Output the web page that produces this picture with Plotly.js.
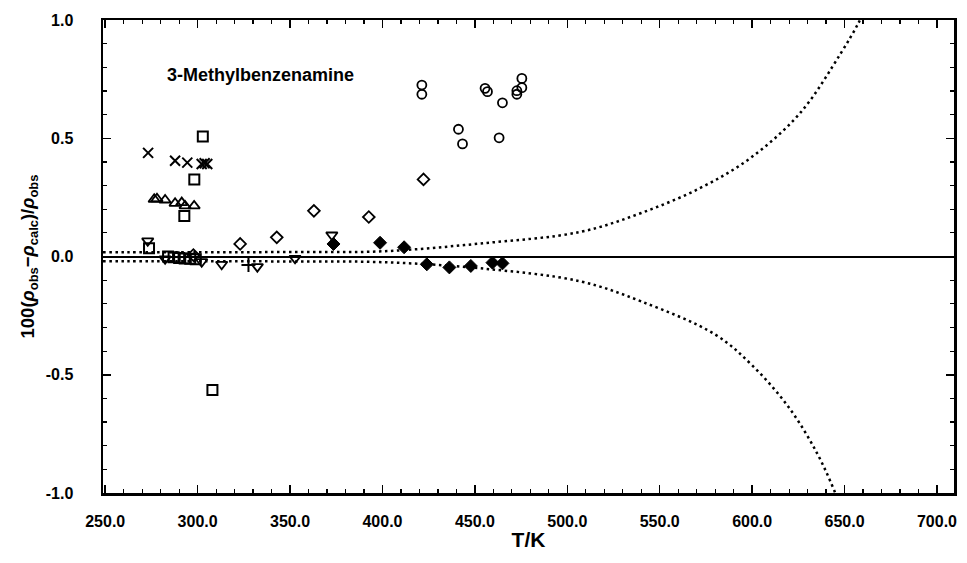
<!DOCTYPE html>
<html><head><meta charset="utf-8">
<script src="https://cdn.plot.ly/plotly-3.0.1.min.js"></script>
<style>html,body{margin:0;padding:0;background:#fff}#chart{width:967px;height:563px}</style>
</head><body><div id="chart"></div>
<script>
// ---- data ----
const crossT = [273.2, 287.8, 294.4, 302.2, 303.8, 305.2];
const crossY = [0.438, 0.405, 0.397, 0.391, 0.394, 0.391];
const squareT = [302.8, 298.2, 292.8, 308.0, 273.7, 284.0, 287.0, 290.0, 293.0, 296.0, 299.0];
const squareY = [0.507, 0.326, 0.171, -0.564, 0.035, 0.000, -0.003, -0.006, -0.008, -0.010, -0.012];
const triUpT = [276.5, 278.0, 282.4, 287.8, 291.4, 293.2, 298.1];
const triUpY = [0.242, 0.244, 0.239, 0.225, 0.228, 0.214, 0.214];
const triDnT = [273.0, 282.4, 302.2, 313.0, 332.3, 352.7, 372.6];
const triDnY = [0.066, -0.010, -0.022, -0.033, -0.043, -0.008, 0.091];
const plusT = [327.5];
const plusY = [-0.036];
const diaT = [297.7, 323.0, 342.8, 362.9, 392.6, 422.2];
const diaY = [0.006, 0.053, 0.081, 0.193, 0.167, 0.326];
const fdiaT = [373.5, 398.7, 411.7, 424.0, 436.2, 447.8, 459.5, 464.9];
const fdiaY = [0.053, 0.058, 0.039, -0.033, -0.046, -0.040, -0.026, -0.029];
const circT = [421.3, 421.3, 441.1, 443.3, 455.5, 456.8, 464.9, 463.1, 472.7, 472.7, 475.4, 475.4];
const circY = [0.725, 0.686, 0.538, 0.476, 0.711, 0.697, 0.650, 0.502, 0.686, 0.701, 0.753, 0.714];
// dotted uncertainty envelope
const upperT = [248.8, 300, 350, 400, 453, 507, 540, 572, 599, 626, 648, 657.5, 662];
const upperY = [0.018, 0.018, 0.019, 0.022, 0.055, 0.104, 0.184, 0.29, 0.416, 0.607, 0.86, 0.987, 1.06];
const lowerT = [248.8, 300, 350, 400, 453, 507, 540, 580, 600, 620, 635, 645, 650];
const lowerY = [-0.020, -0.020, -0.021, -0.024, -0.050, -0.105, -0.19, -0.33, -0.46, -0.64, -0.83, -1.0, -1.1];
// axis labels
const xTicks = [250, 300, 350, 400, 450, 500, 550, 600, 650, 700];
const xTickText = ['250.0','300.0','350.0','400.0','450.0','500.0','550.0','600.0','650.0','700.0'];
const yTicks = [-1, -0.5, 0, 0.5, 1];
const yTickText = ['-1.0','-0.5','0.0','0.5','1.0'];
const chartTitle = '3-Methylbenzenamine';
const xTitle = 'T/K';
const yTitle = '100(<i>ρ</i><sub>obs</sub>−<i>ρ</i><sub>calc</sub>)/<i>ρ</i><sub>obs</sub>';

const FONT = 'Arial, "Liberation Sans", sans-serif';
function mk(x, y, symbol, size, lw) {
  return {x: x, y: y, type: 'scatter', mode: 'markers', cliponaxis: true,
    marker: {symbol: symbol, size: size, color: '#000', line: {color: '#000', width: lw}},
    hoverinfo: 'skip', showlegend: false};
}
const dotLine = {color: '#000', width: 2.5, dash: '2.5px,3.5px', shape: 'spline'};
const traces = [
  {x: upperT, y: upperY, type: 'scatter', mode: 'lines', line: dotLine, hoverinfo: 'skip', showlegend: false},
  {x: lowerT, y: lowerY, type: 'scatter', mode: 'lines', line: dotLine, hoverinfo: 'skip', showlegend: false},
  mk(crossT, crossY, 'x-thin-open', 10, 2),
  mk(squareT, squareY, 'square-open', 10, 2),
  mk(triUpT, triUpY, 'triangle-up-open', 10, 1.8),
  mk(triDnT, triDnY, 'triangle-down-open', 10, 1.8),
  mk(plusT, plusY, 'cross-thin-open', 10, 2),
  mk(diaT, diaY, 'diamond-open', 9, 1.8),
  mk(fdiaT, fdiaY, 'diamond', 10, 1),
  mk(circT, circY, 'circle-open', 9, 1.8)
];
const axisCommon = {
  showline: true, linecolor: '#000', linewidth: 2.5, mirror: 'ticks',
  ticks: 'inside', ticklen: 8, tickwidth: 1.5, tickcolor: '#000',
  showgrid: false,
  tickfont: {family: FONT, size: 16, color: '#000', weight: 'bold'}
};
const layout = {
  width: 967, height: 563,
  margin: {l: 103, r: 13, t: 20, b: 70},
  paper_bgcolor: '#fff', plot_bgcolor: '#fff',
  showlegend: false,
  xaxis: Object.assign({}, axisCommon, {
    range: [248.8, 709.2], tickvals: xTicks, ticktext: xTickText, zeroline: false,
    minor: {dtick: 10, tick0: 250, ticks: 'inside', ticklen: 4, tickwidth: 1.2, tickcolor: '#000'},
    ticklabelstandoff: 12,
    title: {text: xTitle, font: {family: FONT, size: 21, color: '#000', weight: 'bold'}, standoff: 4}
  }),
  yaxis: Object.assign({}, axisCommon, {
    range: [-1, 1], tickvals: yTicks, ticktext: yTickText,
    zeroline: true, zerolinecolor: '#000', zerolinewidth: 2,
    minor: {dtick: 0.1, tick0: 0, ticks: 'inside', ticklen: 4, tickwidth: 1.2, tickcolor: '#000'},
    ticklabelstandoff: 24,
    title: {text: yTitle, font: {family: FONT, size: 18.5, color: '#000', weight: 'bold'}, standoff: 6}
  }),
  annotations: [{
    text: chartTitle, xref: 'paper', yref: 'paper', x: 0.073, y: 0.884,
    xanchor: 'left', yanchor: 'middle', showarrow: false,
    font: {family: FONT, size: 18, color: '#000', weight: 'bold'}
  }]
};
Plotly.newPlot('chart', traces, layout, {displayModeBar: false, staticPlot: true});
</script>
</body></html>
